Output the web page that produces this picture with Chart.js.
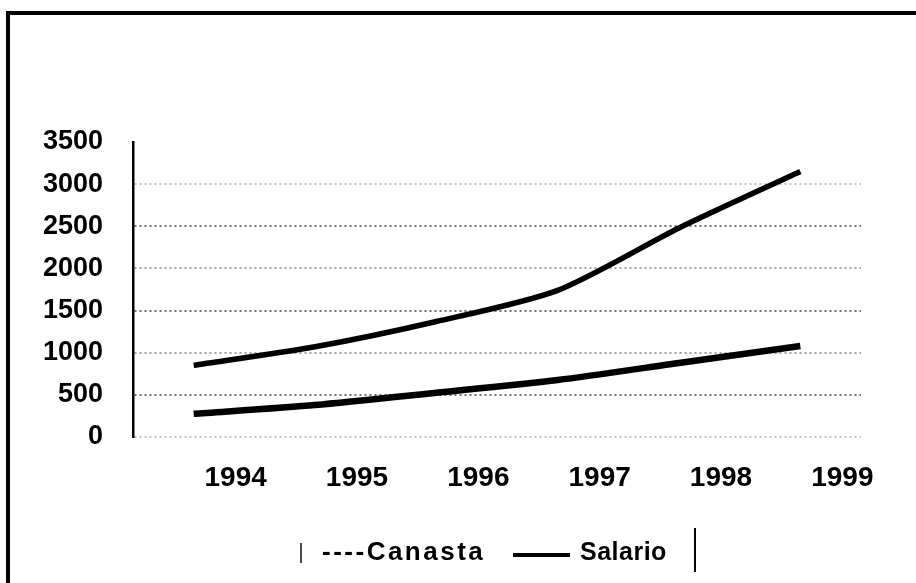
<!DOCTYPE html>
<html>
<head>
<meta charset="utf-8">
<script src="https://cdn.jsdelivr.net/npm/chart.js@4/dist/chart.umd.min.js"></script>
<style>
  html, body { margin: 0; padding: 0; background: #fff; }
  body { width: 916px; height: 583px; position: relative; overflow: hidden;
         font-family: "Liberation Sans", Arial, sans-serif; }
  #frame { position: absolute; left: 6px; top: 11px; width: 920px; height: 600px;
           border-left: 4px solid #000; border-top: 4px solid #000; }
  #wrap { position: absolute; left: 0; top: 0; width: 916px; height: 583px; }
  .legend { position: absolute; top: 536px; left: 0; height: 30px; color: #000; }
  .lg-text { position: absolute; white-space: nowrap; line-height: 30px; font-weight: bold; }
  .mark { position: absolute; background: #000; }
</style>
</head>
<body>
<div id="frame"></div>
<div id="wrap"><canvas id="chart"></canvas></div>

<div class="legend">
  <div class="mark" style="left:300px; top:7px; width:2px; height:20px; opacity:.7"></div>
  <span class="lg-text" style="left:322px; font-size:26px; letter-spacing:2.5px">----Canasta</span>
  <div class="mark" style="left:513px; top:17px; width:57px; height:4px"></div>
  <span class="lg-text" style="left:580px; font-size:25px; letter-spacing:0.5px">Salario</span>
  <div class="mark" style="left:694px; top:-8px; width:2px; height:44px"></div>
</div>

<script>
// ── Data ───────────────────────────────────────────────────────────────────

const YEARS   = ['1994', '1995', '1996', '1997', '1998', '1999'];
const CANASTA = [850, 1070, 1370, 1740, 2480, 3150];
const SALARIO = [275, 380, 525, 676, 878, 1080];
const Y_TICKS = [0, 500, 1000, 1500, 2000, 2500, 3000, 3500];

// gridline shade per value (the scan shows them unevenly)
function gridColor(v) {
  if (v === 3500) return 'rgba(0,0,0,0)';
  if (v === 500 || v === 1500 || v === 2500) return '#6f6f6f';
  if (v === 1000 || v === 2000) return '#a0a0a0';
  return '#c4c4c4';
}

// ── Chart ──────────────────────────────────────────────────────────────────

const ctx = document.getElementById('chart').getContext('2d');
new Chart(ctx, {
  type: 'line',
  data: {
    labels: YEARS,
    datasets: [
      { label: 'Canasta', data: CANASTA, borderColor: '#000', borderWidth: 5.5,
        tension: 0.25, pointRadius: 0, fill: false },
      { label: 'Salario', data: SALARIO, borderColor: '#000', borderWidth: 6.5,
        tension: 0.25, pointRadius: 0, fill: false },
    ]
  },
  options: {
    animation: false,
    responsive: true,
    maintainAspectRatio: false,
    layout: { padding: { left: 0, right: 55, top: 142, bottom: 0 } },
    plugins: { legend: { display: false }, tooltip: { enabled: false } },
    scales: {
      x: {
        type: 'category',
        offset: true,
        grid: { display: false },
        border: { display: false },
        afterFit: s => { s.height = 146; },
        ticks: {
          color: '#000', padding: 16, labelOffset: 42, maxRotation: 0,
          font: { family: '"Liberation Sans", Arial, sans-serif', weight: 'bold', size: 28 }
        }
      },
      y: {
        min: 0, max: 3500,
        afterFit: s => { s.width = 133; },
        afterBuildTicks: s => { s.ticks = Y_TICKS.map(v => ({ value: v })); },
        border: { display: true, color: '#000', width: 2.5, dash: [2, 3] },
        grid: {
          drawTicks: false,
          lineWidth: 2,
          color: c => gridColor(c.tick.value)
        },
        ticks: {
          color: '#000', padding: 30,
          callback: v => String(v),
          font: { family: '"Liberation Sans", Arial, sans-serif', weight: 'bold', size: 27 }
        }
      }
    }
  }
});
</script>
</body>
</html>
